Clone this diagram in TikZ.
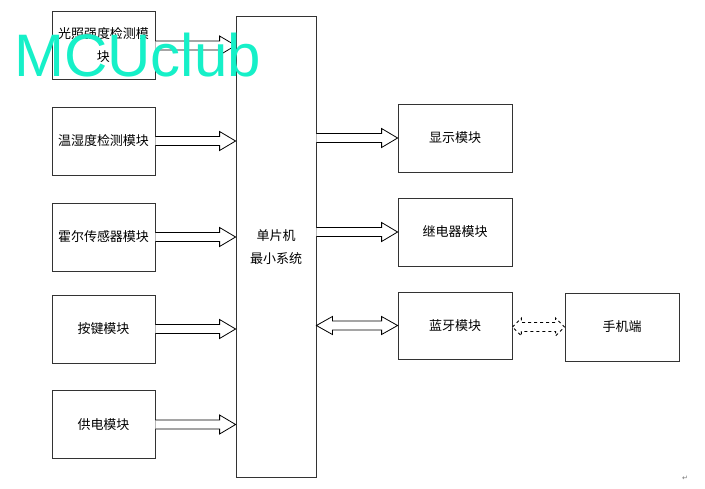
\documentclass[tikz,border=0pt]{standalone}
\usepackage{fontspec}
\newfontfamily\cjk{Noto Sans CJK SC}
\newfontfamily\wmfont{Liberation Sans}
\newfontfamily\symfont{DejaVu Sans}
\usepackage{tikz}
\usetikzlibrary{calc, positioning}

\definecolor{wmcyan}{RGB}{22,240,200}

\tikzset{
  module/.style={draw=black!80, line width=0.8pt, minimum width=103pt, minimum height=68pt,
    align=center, inner sep=2pt, font=\cjk\fontsize{13}{23}\selectfont},
  fatarrow/.style={draw=black, line width=0.8pt, fill=white, line join=miter},
}

% hollow block arrows, horizontal
\newcommand\fatright[3][]{%
  \draw[fatarrow,#1] let \p1=(#2), \p2=(#3) in
    (\x1,\y1+4.5pt) -- (\x2-16pt,\y1+4.5pt) -- (\x2-16pt,\y1+9.5pt) -- (\x2,\y1)
    -- (\x2-16pt,\y1-9.5pt) -- (\x2-16pt,\y1-4.5pt) -- (\x1,\y1-4.5pt);}
\newcommand\fatboth[4][]{%
  \draw[fatarrow,#1] let \p1=(#3), \p2=(#4) in
    (\x1,\y1) -- (\x1+#2,\y1+9pt) -- (\x1+#2,\y1+4.5pt) -- (\x2-#2,\y1+4.5pt)
    -- (\x2-#2,\y1+9pt) -- (\x2,\y1) -- (\x2-#2,\y1-9pt) -- (\x2-#2,\y1-4.5pt)
    -- (\x1+#2,\y1-4.5pt) -- (\x1+#2,\y1-9pt) -- cycle;}

\begin{document}
\begin{tikzpicture}[x=1pt, y=-1pt]
    \useasboundingbox (0,0) rectangle (705,488);

    % MCU core
    \node[module, minimum width=80pt, minimum height=461pt] (mcu) at (276,247) {单片机\\最小系统};

    % input modules
    \node[module] (light) at (103.5,45.5) {光照强度检测模\\块};
    \foreach \m/\y/\t in {humid/141/温湿度检测模块, hall/237/霍尔传感器模块, key/329/按键模块, power/424.5/供电模块} {
      \node[module] (\m) at (103.5,\y) {\t};
    }
    \foreach \m in {light, humid, hall, key, power} {
      \fatright{\m.east}{mcu.west |- \m.east}
    }

    % output modules
    \node[module, minimum width=114pt] (disp) at (455,138) {显示模块};
    \node[module, minimum width=114pt] (relay) at (455,232) {继电器模块};
    \node[module, minimum width=114pt, minimum height=67pt] (bt) at (455,325.5) {蓝牙模块};
    \node[module, minimum width=114pt] (phone) at (622,327) {手机端};
    \fatright{mcu.east |- disp.west}{disp.west}
    \fatright{mcu.east |- relay.west}{relay.west}
    \fatboth{16pt}{mcu.east |- bt.west}{bt.west}
    \fatboth[dashed, line width=0.9pt]{9pt}{bt.east |- phone.west}{phone.west}

    % watermark and mark
    \node[anchor=base west, inner sep=0pt, text=wmcyan, font=\wmfont\fontsize{60}{60}\selectfont] (wm) at (14,76) {MCUclub};
    \node[text=black!55, inner sep=0pt, font=\symfont\fontsize{7}{7}\selectfont] (mark) at (685,478) {↵};
\end{tikzpicture}
\end{document}
